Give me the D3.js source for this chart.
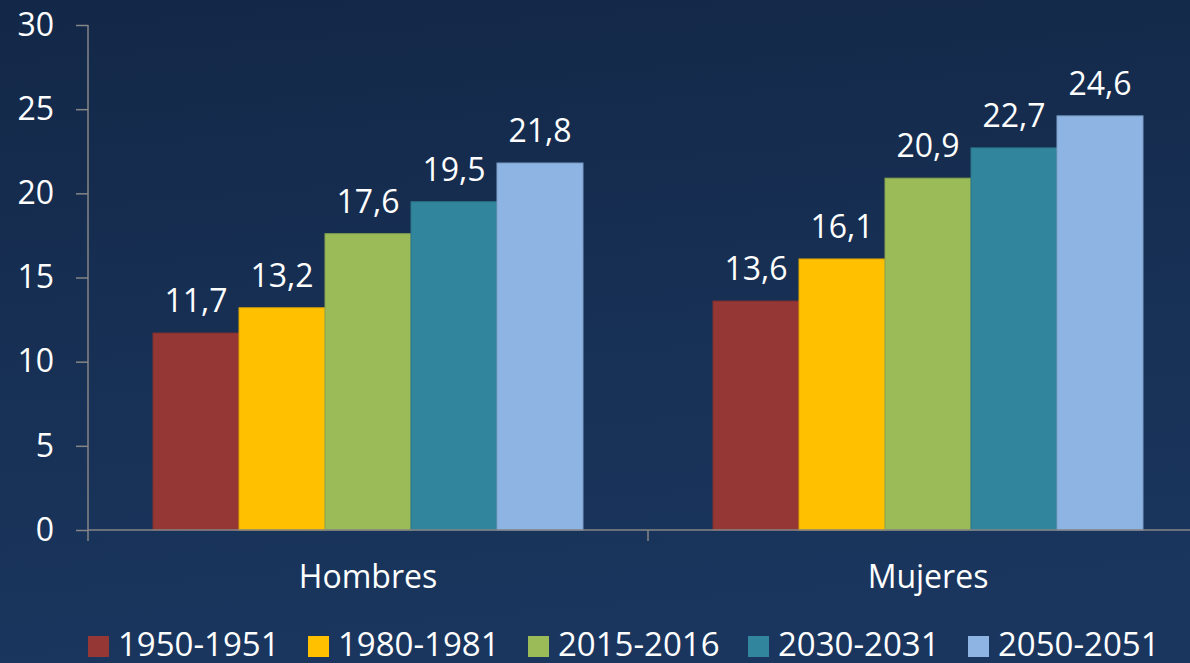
<!DOCTYPE html>
<html lang="es">
<head>
  <meta charset="UTF-8" />
  <title>Hombres / Mujeres</title>
  <script src="https://d3js.org/d3.v7.min.js"></script>
  <style>
    html, body { margin: 0; padding: 0; }
    body { width: 1190px; height: 663px; overflow: hidden; }
    svg { display: block; font-family: "Open Sans", sans-serif; }
  </style>
</head>
<body>
  <svg id="chart" width="1190" height="663"></svg>

  <script>
    // data
    const groups = ['Hombres', 'Mujeres'];
    const periods = ['1950-1951', '1980-1981', '2015-2016', '2030-2031', '2050-2051'];
    const hombres = [11.7, 13.2, 17.6, 19.5, 21.8];
    const mujeres = [13.6, 16.1, 20.9, 22.7, 24.6];
    const yTicks = [0, 5, 10, 15, 20, 25, 30];
    const colors = ['#953735', '#ffc000', '#9bbb59', '#31859c', '#8eb4e3'];

    const values = { Hombres: hombres, Mujeres: mujeres };

    const W = 1190, H = 663;
    const margin = { top: 25, right: -18, bottom: 133, left: 88 };
    const axisColor = '#868686';
    const fmt = v => d3.format('.1f')(v).replace('.', ',');

    const svg = d3.select('#chart');

    // background
    const defs = svg.append('defs');
    const grad = defs.append('linearGradient')
      .attr('id', 'bg').attr('x1', 0).attr('y1', 0).attr('x2', 0.15).attr('y2', 1);
    grad.append('stop').attr('offset', '0%').attr('stop-color', '#132848');
    grad.append('stop').attr('offset', '100%').attr('stop-color', '#1a365e');
    svg.append('rect').attr('width', W).attr('height', H).attr('fill', 'url(#bg)');

    const x0 = d3.scaleBand()
      .domain(groups)
      .range([margin.left, W - margin.right])
      .padding(0);

    const x1 = d3.scaleBand()
      .domain(periods)
      .range([0, x0.bandwidth()])
      .paddingInner(0)
      .paddingOuter(0.756);

    const y = d3.scaleLinear()
      .domain([0, 30])
      .range([H - margin.bottom, margin.top]);

    const color = d3.scaleOrdinal().domain(periods).range(colors);

    // bars
    const g = svg.append('g')
      .selectAll('g')
      .data(groups)
      .join('g')
      .attr('transform', d => `translate(${x0(d)},0)`);

    const rows = grp => periods.map((p, i) => ({ group: grp, period: p, value: values[grp][i] }));

    g.selectAll('rect')
      .data(d => rows(d))
      .join('rect')
      .attr('x', d => x1(d.period))
      .attr('y', d => y(d.value))
      .attr('width', x1.bandwidth())
      .attr('height', d => y(0) - y(d.value))
      .attr('fill', d => color(d.period))
      .attr('stroke', d => d3.color(color(d.period)).darker(0.35))
      .attr('stroke-width', 1);

    g.selectAll('text.val')
      .data(d => rows(d))
      .join('text')
      .attr('class', 'val')
      .attr('x', d => x1(d.period) + x1.bandwidth() / 2)
      .attr('y', d => y(d.value) - 21)
      .attr('text-anchor', 'middle')
      .attr('fill', '#fff')
      .attr('font-size', 32)
      .text(d => fmt(d.value));

    // y axis
    const yAxis = svg.append('g')
      .attr('transform', `translate(${margin.left},0)`)
      .call(d3.axisLeft(y).tickValues(yTicks).tickSize(12).tickPadding(22).tickFormat(d3.format('d')));
    yAxis.select('.domain').remove();
    yAxis.append('line')
      .attr('y1', y(30)).attr('y2', y(0) + 11)
      .attr('stroke', axisColor).attr('stroke-width', 1.5);
    yAxis.selectAll('.tick line').attr('stroke', axisColor).attr('stroke-width', 1.5);
    yAxis.selectAll('.tick text')
      .attr('fill', '#fff')
      .attr('font-size', 32)
      .attr('font-family', '"Open Sans", sans-serif');

    // x axis
    const xAxis = svg.append('g')
      .attr('transform', `translate(0,${y(0)})`)
      .call(d3.axisBottom(x0).tickSize(0).tickPadding(58));
    xAxis.select('.domain').remove();
    xAxis.append('line')
      .attr('x1', margin.left).attr('x2', W)
      .attr('stroke', axisColor).attr('stroke-width', 1.5);
    xAxis.selectAll('line.sep')
      .data(groups.slice(1))
      .join('line')
      .attr('class', 'sep')
      .attr('x1', d => x0(d)).attr('x2', d => x0(d))
      .attr('y1', 0).attr('y2', 11)
      .attr('stroke', axisColor).attr('stroke-width', 1.5);
    xAxis.selectAll('.tick text')
      .attr('fill', '#fff')
      .attr('font-size', 32)
      .attr('dy', 0)
      .attr('font-family', '"Open Sans", sans-serif');

    // legend
    const legendX = d3.scalePoint()
      .domain(periods)
      .range([88, 968]);
    const legendBase = 656;

    const leg = svg.append('g')
      .selectAll('g')
      .data(periods)
      .join('g')
      .attr('transform', d => `translate(${legendX(d)},${legendBase})`);

    leg.append('rect')
      .attr('x', 0).attr('y', -20)
      .attr('width', 21).attr('height', 21)
      .attr('fill', d => color(d));

    leg.append('text')
      .attr('x', 30)
      .attr('y', 0)
      .attr('fill', '#fff')
      .attr('font-size', 33)
      .text(d => d);
  </script>
</body>
</html>
